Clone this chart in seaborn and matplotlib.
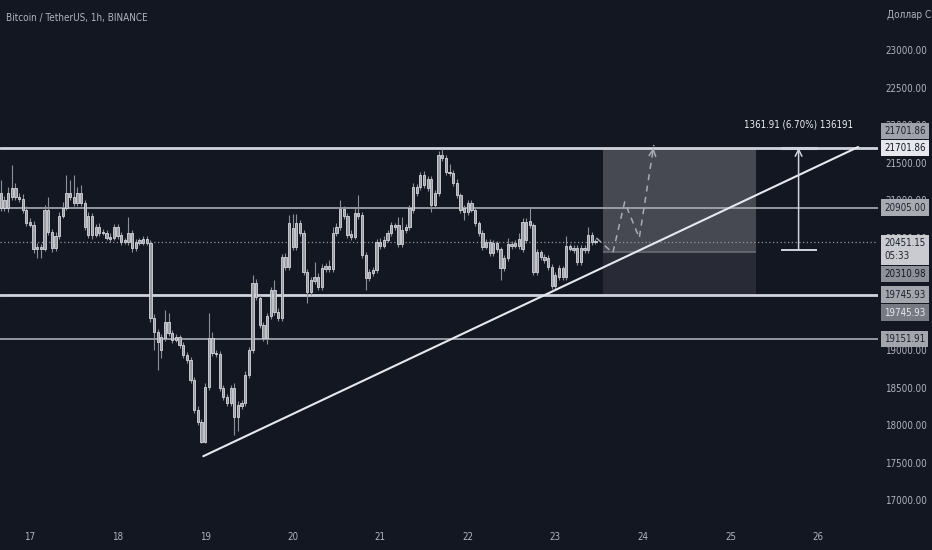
import numpy as np
import pandas as pd
import matplotlib
matplotlib.use("Agg")
import matplotlib.pyplot as plt
import matplotlib.dates as mdates
from matplotlib import font_manager as fm
import seaborn as sns

# BTC/USDT 1h candles
start_time = "2022-06-16 16:00"
opens = [21100, 20900, 20900, 21047, 21167, 21047, 21020, 20873, 20713, 20673,
         20353, 20380, 20353, 20873, 20580, 20367, 20527, 20793, 20900, 21100,
         21047, 20967, 21100, 20967, 20540, 20793, 20540, 20647, 20580, 20567,
         20513, 20500, 20647, 20540, 20447, 20447, 20567, 20367, 20433, 20433,
         20487, 20433, 19433, 19247, 19180, 19167, 19380, 19233, 19140, 19180,
         19073, 18940, 18873, 18607, 18207, 18047, 17780, 18513, 19167, 18967,
         18953, 18500, 18380, 18300, 18500, 18113, 18260, 18300, 18673, 19007,
         19900, 19700, 19340, 19167, 19460, 19807, 19513, 19433, 20247, 20113,
         20633, 20380, 20700, 20567, 20047, 19780, 19927, 19980, 19847, 20087,
         20127, 20087, 20567, 20647, 20887, 20793, 20553, 20513, 20833, 20807,
         20273, 19967, 20033, 20073, 20393, 20393, 20473, 20567, 20647, 20673,
         20420, 20607, 20647, 20873, 21180, 21180, 21340, 21167, 21287, 20940,
         21100, 21607, 21567, 21380, 21367, 21233, 21073, 20900, 20847, 20967,
         20873, 20700, 20567, 20380, 20447, 20300, 20433, 20353, 20100, 20233,
         20420, 20393, 20393, 20353, 20713, 20673, 20673, 20047, 20313, 20247,
         20233, 20113, 19860, 19980, 20100, 19980, 20393, 20367, 20367, 20180,
         20367, 20340, 20540, 20447]
closes = [20900, 21007, 21100, 21167, 21047, 21020, 20873, 20700, 20673, 20353,
          20380, 20353, 20873, 20580, 20367, 20527, 20793, 20900, 21100, 21047,
          20967, 21100, 20967, 20647, 20793, 20540, 20647, 20567, 20567, 20500,
          20487, 20647, 20527, 20447, 20473, 20567, 20367, 20447, 20473, 20487,
          20433, 19433, 19247, 19113, 19007, 19380, 19233, 19140, 19180, 19073,
          18940, 18873, 18607, 18207, 18047, 17780, 18513, 19167, 18967, 18953,
          18500, 18380, 18300, 18500, 18113, 18273, 18300, 18673, 19007, 19900,
          19713, 19340, 19167, 19460, 19807, 19513, 19433, 20247, 20113, 20700,
          20380, 20700, 20567, 20047, 19780, 19940, 19980, 19847, 20100, 20127,
          20087, 20567, 20647, 20887, 20793, 20540, 20513, 20833, 20793, 20273,
          19967, 20047, 20073, 20447, 20447, 20473, 20567, 20673, 20673, 20420,
          20607, 20647, 20900, 21180, 21100, 21340, 21207, 21287, 20940, 21100,
          21607, 21567, 21380, 21367, 21233, 21073, 20873, 20847, 20967, 20873,
          20700, 20567, 20380, 20447, 20300, 20433, 20353, 20100, 20233, 20420,
          20393, 20433, 20487, 20713, 20473, 20727, 20047, 20313, 20247, 20207,
          20113, 19860, 20007, 20100, 19980, 20393, 20353, 20340, 20180, 20367,
          20340, 20540, 20447, 20451.15]
highs = [21270, 21060, 21180, 21470, 21230, 21100, 21080, 20920, 20760, 20720,
         20430, 20420, 20940, 21050, 20620, 20580, 20850, 20980, 21340, 21270,
         21340, 21180, 21210, 21010, 20850, 20830, 20690, 20700, 20620, 20600,
         20560, 20680, 20680, 20580, 20500, 20780, 20610, 20480, 20500, 20520,
         20520, 20470, 19480, 19290, 19220, 19540, 19500, 19270, 19220, 19210,
         19110, 18980, 18910, 18650, 18260, 18090, 18560, 19500, 19250, 19000,
         18990, 18540, 18420, 18540, 18560, 18320, 18340, 18720, 19050, 20010,
         19950, 19740, 19380, 19500, 19850, 19940, 19560, 20290, 20300, 20810,
         20820, 20820, 20740, 20600, 20080, 19980, 20180, 20030, 20150, 20170,
         20200, 20650, 20700, 21007, 20930, 20830, 20600, 20900, 21070, 20850,
         20310, 20090, 20110, 20490, 20500, 20520, 20600, 20710, 20700, 20780,
         20780, 20680, 20940, 21230, 21220, 21380, 21390, 21330, 21320, 21140,
         21660, 21690, 21600, 21480, 21400, 21280, 21100, 20940, 21000, 21000,
         20900, 20730, 20600, 20480, 20490, 20470, 20460, 20380, 20270, 20500,
         20460, 20470, 20560, 20760, 20760, 20900, 20700, 20350, 20340, 20280,
         20270, 20150, 20040, 20140, 20130, 20520, 20420, 20400, 20400, 20400,
         20400, 20650, 20580, 20490]
lows = [20860, 20860, 20850, 21000, 21000, 20980, 20830, 20660, 20640, 20300,
        20230, 20230, 20320, 20540, 20310, 20320, 20490, 20760, 20870, 21010,
        20930, 20930, 20930, 20610, 20500, 20490, 20510, 20530, 20540, 20470,
        20450, 20470, 20490, 20410, 20420, 20410, 20310, 20330, 20400, 20400,
        20400, 19380, 19000, 18740, 18900, 19120, 19190, 19100, 19110, 19030,
        18900, 18830, 18560, 18160, 18000, 17760, 17760, 18470, 18920, 18910,
        18460, 18340, 18260, 18260, 17870, 17920, 18220, 18260, 18630, 18960,
        19670, 19300, 19120, 19090, 19420, 19470, 19390, 19390, 20070, 20070,
        20340, 20340, 20530, 20000, 19630, 19740, 19890, 19800, 19810, 20050,
        20050, 20050, 20530, 20610, 20750, 20500, 20470, 20480, 20750, 20230,
        19810, 19930, 19990, 20030, 20350, 20360, 20440, 20530, 20610, 20380,
        20380, 20570, 20610, 20830, 21060, 21140, 21170, 21130, 20850, 20900,
        21060, 21530, 21340, 21330, 21190, 21030, 20830, 20740, 20810, 20840,
        20660, 20520, 20340, 20350, 20260, 20260, 20310, 19940, 20060, 20190,
        20350, 20360, 20350, 20310, 20430, 20630, 20000, 20010, 20210, 20170,
        20070, 19820, 19800, 19940, 19940, 19940, 20320, 20300, 20140, 20140,
        20300, 20300, 20410, 20420]

# drawn levels
levels = [21701.86, 20905.00, 19745.93, 19151.91]
level_widths = [2.0, 1.2, 2.0, 1.2]
last_price = 20451.15

# trend line
trend_times = ["2022-06-18 23:30", "2022-06-26 11:00"]
trend_prices = [17590, 21713]

# long position tool
pos_times = ["2022-06-23 13:00", "2022-06-25 07:00"]
pos_entry = 20310.98
pos_stop = 19745.93
pos_target = 21701.86

# projected path (dashed)
proj_times = ["2022-06-23 11:15", "2022-06-23 15:45", "2022-06-23 19:00",
              "2022-06-23 23:00", "2022-06-24 03:00"]
proj_prices = [20500, 20300, 20980, 20500, 21740]

# measure tool
meas_time = "2022-06-25 18:40"
meas_span = ["2022-06-25 13:50", "2022-06-25 23:50"]
meas_low = 20339.95
meas_high = 21701.86
meas_text = "1361.91 (6.70%) 136191"

yticks = [17000, 17500, 18000, 18500, 19000, 19500, 20000, 20500,
          21000, 21500, 22000, 22500, 23000]

# right-hand price tags: (text, y, face, text colour)
tags = [("21701.86", 21930, "#9fa2aa", "#1e222d"),
        ("21701.86", 21701.86, "#e6e8ee", "#131722"),
        ("20905.00", 20905.00, "#a8abb2", "#1e222d"),
        ("20451.15\n05:33", 20345, "#c9cbd1", "#1e222d"),
        ("20310.98", 20020, "#8d9098", "#131722"),
        ("19745.93", 19745.93, "#a3a6ad", "#1e222d"),
        ("19745.93", 19505, "#777a83", "#e8e9ec"),
        ("19151.91", 19151.91, "#a3a6ad", "#1e222d")]

BG = "#131722"
TXT = "#b2b5be"

sns.set_theme(style="dark", rc={"axes.facecolor": BG, "figure.facecolor": BG})
plt.rcParams["font.family"] = ["Liberation Sans", "DejaVu Sans"]

# the screenshot uses a narrow face; take one if the system has it
narrow = None
for key in ("liberationsansnarrow-regular", "dejavusanscondensed.ttf", "condensed-regular"):
    for f in fm.fontManager.ttflist:
        if key in f.fname.lower().replace("_", "-").replace(" ", ""):
            narrow = f.fname
            break
    if narrow:
        break
if narrow:
    FP = fm.FontProperties(fname=narrow)
    FS = 7.0
else:
    FP = fm.FontProperties(family=["Liberation Sans", "DejaVu Sans"])
    FS = 6.6

df = pd.DataFrame({"time": pd.date_range(start_time, periods=len(closes), freq="h"),
                   "open": opens, "high": highs, "low": lows, "close": closes})
df["bottom"] = df[["open", "close"]].min(axis=1)
df["body"] = (df["close"] - df["open"]).abs().clip(lower=8)

fig = plt.figure(figsize=(9.32, 5.5), dpi=100)
ax = fig.add_axes([0, 28 / 550, 878 / 932, 522 / 550])
ax.set_facecolor(BG)

# position box
t0, t1 = pd.to_datetime(pos_times)
ax.fill_between([t0, t1], pos_entry, pos_target, color="#ffffff", alpha=0.22, lw=0, zorder=1)
ax.fill_between([t0, t1], pos_stop, pos_entry, color="#ffffff", alpha=0.09, lw=0, zorder=1)
ax.hlines(pos_entry, t0, t1, color="#6a6d75", lw=1.2, zorder=1)

# levels
for lv, lw in zip(levels, level_widths):
    ax.axhline(lv, color="#d1d4dc" if lw > 1.5 else "#a9acb4", lw=lw, zorder=2)
ax.axhline(last_price, color="#9598a1", lw=0.9, ls=(0, (1, 2)), zorder=2)

# candles
ax.vlines(df["time"], df["low"], df["high"], color="#8d9098", lw=0.8, zorder=3)
ax.bar(df["time"], df["body"], bottom=df["bottom"], width=0.62 / 24,
       color="#9a9ca4", edgecolor="#d6d8dd", linewidth=0.6, zorder=4)

# trend line
trend = pd.DataFrame({"time": pd.to_datetime(trend_times), "price": trend_prices})
sns.lineplot(data=trend, x="time", y="price", color="#e6e8ee", lw=1.5, ax=ax, zorder=5)

# dashed projection
proj = pd.DataFrame({"time": pd.to_datetime(proj_times), "price": proj_prices})
ax.plot(proj["time"], proj["price"], color="#a9acb4", lw=1.1, ls=(0, (4, 3.5)), zorder=5)
ax.annotate("", xy=(proj["time"].iloc[-1], proj["price"].iloc[-1]),
            xytext=(proj["time"].iloc[-1] - pd.Timedelta(minutes=20), proj["price"].iloc[-1] - 120),
            arrowprops=dict(arrowstyle="->", color="#a9acb4", lw=1.1), zorder=5)

# measure
tm = pd.to_datetime(meas_time)
m0, m1 = pd.to_datetime(meas_span)
ax.annotate("", xy=(tm, meas_high), xytext=(tm, meas_low),
            arrowprops=dict(arrowstyle="->", color="#d1d4dc", lw=1.1,
                            shrinkA=0, shrinkB=0), zorder=6)
ax.hlines([meas_low, meas_high], m0, m1, color="#d1d4dc", lw=[1.4, 2.2], zorder=6)
ax.text(tm, 22010, meas_text, color="#eceef2", fontproperties=FP, fontsize=FS,
        ha="center", va="center", zorder=6)

# axes
ax.set_xlim(pd.Timestamp("2022-06-16 15:47"), pd.Timestamp("2022-06-26 16:26"))
ax.set_ylim(16713, 23673)
ax.xaxis.set_major_locator(mdates.DayLocator())
ax.xaxis.set_major_formatter(mdates.DateFormatter("%d"))
ax.set_yticks(yticks)
ax.set_yticklabels([f"{v:.2f}" for v in yticks])
ax.yaxis.tick_right()
ax.tick_params(axis="x", length=0, pad=7, colors=TXT)
ax.tick_params(axis="y", length=0, pad=5, colors=TXT)
for lab in ax.get_xticklabels() + ax.get_yticklabels():
    lab.set_fontproperties(FP)
    lab.set_fontsize(FS)
ax.set_xlabel("")
ax.set_ylabel("")
ax.grid(False)
for s in ax.spines.values():
    s.set_visible(False)

# price tags on the scale
for txt, y, face, tc in tags:
    ax.annotate(txt, xy=(1.0, y), xycoords=ax.get_yaxis_transform(),
                xytext=(4.5, 0), textcoords="offset points", ha="left", va="center",
                fontproperties=FP, fontsize=FS, color=tc,
                annotation_clip=False, zorder=10, linespacing=1.45,
                bbox=dict(boxstyle="square,pad=0.32", fc=face, ec="none"))

fig.text(6 / 932, 1 - 18 / 550, "Bitcoin / TetherUS, 1h, BINANCE", color=TXT,
         fontproperties=FP, fontsize=FS + 0.1, ha="left", va="center")
fig.text(887 / 932, 1 - 15 / 550, "Доллар СШ", color=TXT, fontproperties=FP,
         fontsize=FS + 0.1, ha="left", va="center")

fig.savefig("out.png", dpi=100, facecolor=BG)
